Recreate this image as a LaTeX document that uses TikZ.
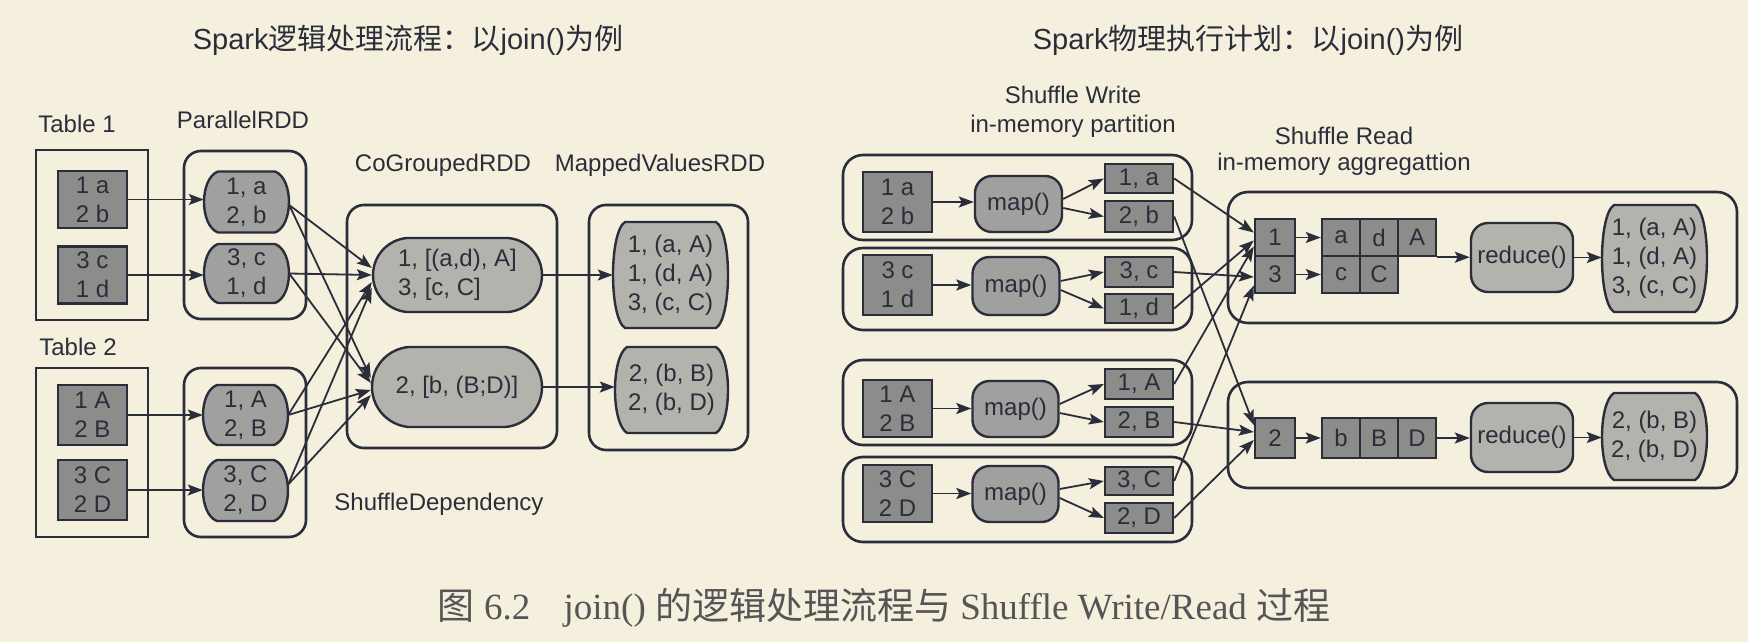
\documentclass[tikz,border=0pt]{standalone}
\usepackage{fontspec}
\setmainfont{Liberation Sans}
\newfontfamily\cjk{Noto Sans CJK SC}
\newfontfamily\capserif{Liberation Serif}
\usetikzlibrary{shapes.misc,arrows.meta}
\definecolor{bg}{RGB}{245,239,221}
\definecolor{ink}{RGB}{42,46,58}
\definecolor{gdark}{RGB}{140,140,138}
\definecolor{gmid}{RGB}{160,160,158}
\definecolor{glight}{RGB}{180,178,173}
\definecolor{capgray}{RGB}{85,85,85}
% barrel-shaped node: name, x, y, width, height, corner inset, corner drop, fill, text
\newcommand\mybarrel[9]{%
  \draw[draw=ink, line width=2.4pt, fill=#8]
    ({#2-#4/2+#6},{#3-#5/2}) -- ({#2+#4/2-#6},{#3-#5/2})
    .. controls ({#2+#4/2+#6/3},{#3-#5/2+#7}) and ({#2+#4/2+#6/3},{#3+#5/2-#7}) .. ({#2+#4/2-#6},{#3+#5/2})
    -- ({#2-#4/2+#6},{#3+#5/2})
    .. controls ({#2-#4/2-#6/3},{#3+#5/2-#7}) and ({#2-#4/2-#6/3},{#3-#5/2+#7}) .. cycle;
  \node[minimum width=#4pt, minimum height=#5pt] (#1) at (#2,#3) {#9};}
\begin{document}
\begin{tikzpicture}[x=1pt,y=-1pt,
  every node/.style={font=\fontsize{24}{29}\selectfont, text=ink, inner sep=0pt, align=center},
  lbl/.style={anchor=base},
  frame/.style={draw=ink, line width=2.6pt, rectangle},
  rframe/.style={frame, rounded corners=17pt},
  sq/.style={draw=ink, line width=2.4pt, fill=gdark, rectangle},
  stadium/.style={draw=ink, line width=2.4pt, fill=glight, rounded rectangle, rounded rectangle arc length=170},
  func/.style={draw=ink, line width=2.4pt, fill=gmid, rectangle, rounded corners=17pt},
  arr/.style={draw=ink, line width=1.8pt, -{Stealth[length=15pt,width=11pt,inset=3pt]}},
  ttl/.style={font=\fontsize{29}{34}\selectfont, text=ink}
]
\useasboundingbox[fill=bg] (0,0) rectangle (1748,642);

% ---------- titles ----------
\node[ttl] (title1) at (408,40) {Spark{\cjk 逻辑处理流程：以}join(){\cjk 为例}};
\node[ttl] (title2) at (1248,40) {Spark{\cjk 物理执行计划：以}join(){\cjk 为例}};

% ---------- left: labels ----------
\node[lbl] (tab1) at (77,132) {Table 1};
\node[lbl] (prdd) at (243,128) {ParallelRDD};
\node[lbl] (cgl) at (443,171) {CoGroupedRDD};
\node[lbl] (mvl) at (660,171) {MappedValuesRDD};
\node[lbl] (tab2) at (78,355) {Table 2};
\node[lbl] (sdl) at (439,510) {ShuffleDependency};

% ---------- left: frames ----------
\node[frame, minimum width=112pt, minimum height=170pt] (T1) at (92,235) {};
\node[rframe, minimum width=122pt, minimum height=168pt] (P1) at (245,235) {};
\node[frame, minimum width=112pt, minimum height=169pt] (T2) at (92,452.5) {};
\node[rframe, minimum width=122pt, minimum height=169pt] (P2) at (245,452.5) {};
\node[rframe, minimum width=210pt, minimum height=243pt] (CG) at (452,326.5) {};
\node[rframe, minimum width=159pt, minimum height=245pt] (MV) at (668.5,327.5) {};

% ---------- left: nodes ----------
\node[sq, minimum width=69pt, minimum height=57pt] (t1a) at (92.5,199.5) {1 a\\2 b};
\node[sq, minimum width=69pt, minimum height=57pt] (t1b) at (92.5,275) {3 c\\1 d};
\node[sq, minimum width=69pt, minimum height=60pt] (t2a) at (92.5,415) {1 A\\2 B};
\node[sq, minimum width=69pt, minimum height=60pt] (t2b) at (92.5,490) {3 C\\2 D};

\mybarrel{p1a}{246.5}{202}{85}{61}{14}{7}{gmid}{1, a\\2, b}
\mybarrel{p1b}{246.5}{273.5}{85}{59}{14}{7}{gmid}{3, c\\1, d}
\mybarrel{p2a}{245.5}{415}{85}{60}{14}{7}{gmid}{1, A\\2, B}
\mybarrel{p2b}{245.5}{490.5}{85}{61}{14}{7}{gmid}{3, C\\2, D}

\node[stadium, align=left, minimum width=169pt, minimum height=74pt] (cg1) at (457.5,275) {1, [(a,d), A]\\3, [c, C]};
\node[stadium, minimum width=170pt, minimum height=80pt] (cg2) at (457,387) {2, [b, (B;D)]};

\mybarrel{mv1}{670.5}{275}{115}{106}{12}{10}{glight}{1, (a, A)\\1, (d, A)\\3, (c, C)}
\mybarrel{mv2}{671.5}{390}{113}{86}{12}{10}{glight}{2, (b, B)\\2, (b, D)}

% ---------- left: arrows ----------
\draw[arr] (t1a.east) -- (t1a.east -| p1a.west);
\draw[arr] (t1b.east) -- (t1b.east -| p1b.west);
\draw[arr] (t2a.east) -- (t2a.east -| p2a.west);
\draw[arr] (t2b.east) -- (t2b.east -| p2b.west);

\draw[arr] ([yshift=-3pt]p1a.east) -- ([yshift=7pt]cg1.west);
\draw[arr] ([yshift=-3pt]p1a.east) -- ([yshift=9pt]cg2.west);
\draw[arr] (p1b.east) -- (cg1.west);
\draw[arr] (p1b.east) -- ([yshift=4pt]cg2.west);
\draw[arr] (p2a.east) -- ([yshift=-7pt]cg1.west);
\draw[arr] (p2a.east) -- ([yshift=-3pt]cg2.west);
\draw[arr] ([yshift=6pt]p2b.east) -- ([yshift=-13pt]cg1.west);
\draw[arr] ([yshift=6pt]p2b.east) -- ([yshift=-8pt]cg2.west);

\draw[arr] (cg1.east) -- (mv1.west);
\draw[arr] (cg2.east) -- (cg2.east -| mv2.west);

% ---------- right: labels ----------
\node (swl) at (1073,112) {Shuffle Write\\in-memory partition};
\node[font=\fontsize{24}{26}\selectfont] (srl) at (1344,151) {Shuffle Read\\in-memory aggregattion};

% ---------- right: frames ----------
\node[rframe, rounded corners=20pt, minimum width=349pt, minimum height=85pt] (R1) at (1017.5,197.5) {};
\node[rframe, rounded corners=20pt, minimum width=349pt, minimum height=82pt] (R2) at (1017.5,289) {};
\node[rframe, rounded corners=20pt, minimum width=349pt, minimum height=85pt] (R3) at (1017.5,402.5) {};
\node[rframe, rounded corners=20pt, minimum width=349pt, minimum height=85pt] (R4) at (1017.5,499.5) {};
\node[rframe, rounded corners=20pt, minimum width=509pt, minimum height=131pt] (SR1) at (1482.5,257.5) {};
\node[rframe, rounded corners=20pt, minimum width=509pt, minimum height=106pt] (SR2) at (1482.5,435) {};

% ---------- right: write side ----------
\node[sq, minimum width=69pt, minimum height=60pt] (s1) at (897.5,202) {1 a\\2 b};
\node[sq, minimum width=69pt, minimum height=60pt] (s2) at (897.5,285) {3 c\\1 d};
\node[sq, minimum width=69pt, minimum height=57pt] (s3) at (897.5,408.5) {1 A\\2 B};
\node[sq, minimum width=69pt, minimum height=57pt] (s4) at (897.5,493.5) {3 C\\2 D};

\node[func, minimum width=87pt, minimum height=56pt] (m1) at (1018.5,204) {map()};
\node[func, minimum width=87pt, minimum height=58pt] (m2) at (1016,286) {map()};
\node[func, minimum width=86pt, minimum height=56pt] (m3) at (1015.5,409) {map()};
\node[func, minimum width=86pt, minimum height=56pt] (m4) at (1015.5,494) {map()};

\node[sq, minimum width=68pt, minimum height=29pt] (o1a) at (1139,178.5) {1, a};
\node[sq, minimum width=68pt, minimum height=31pt] (o1b) at (1139,216.5) {2, b};
\node[sq, minimum width=68pt, minimum height=30pt] (o2a) at (1139,272) {3, c};
\node[sq, minimum width=68pt, minimum height=29pt] (o2b) at (1139,308.5) {1, d};
\node[sq, minimum width=68pt, minimum height=30pt] (o3a) at (1139,384) {1, A};
\node[sq, minimum width=68pt, minimum height=30pt] (o3b) at (1139,422) {2, B};
\node[sq, minimum width=68pt, minimum height=28pt] (o4a) at (1139,481) {3, C};
\node[sq, minimum width=68pt, minimum height=30pt] (o4b) at (1139,518) {2, D};

\draw[arr] (s1.east) -- (s1.east -| m1.west);
\draw[arr] (s2.east) -- (s2.east -| m2.west);
\draw[arr] (s3.east) -- (s3.east -| m3.west);
\draw[arr] (s4.east) -- (s4.east -| m4.west);
\foreach \i in {1,2,3,4}{
  \draw[arr] ([yshift=5pt]m\i.east) -- (o\i a.west);
  \draw[arr] ([yshift=-4pt]m\i.east) -- (o\i b.west);
}

% ---------- right: read side ----------
\node[sq, minimum width=40pt, minimum height=37pt] (k1) at (1275,237.5) {1};
\node[sq, minimum width=40pt, minimum height=37pt] (k3) at (1275,274.5) {3};
\node[sq, minimum width=38pt, minimum height=37pt] (ca) at (1341,237.5) {a};
\node[sq, minimum width=38pt, minimum height=37pt] (cd) at (1379,237.5) {d};
\node[sq, minimum width=38pt, minimum height=37pt] (cA) at (1417,237.5) {A};
\node[sq, minimum width=38pt, minimum height=37pt] (cc) at (1341,274.5) {c};
\node[sq, minimum width=38pt, minimum height=37pt] (cC) at (1379,274.5) {C};
\node[func, fill=glight, minimum width=102pt, minimum height=69pt] (red1) at (1522,257.5) {reduce()};
\mybarrel{res1}{1654.5}{258.5}{105}{107}{12}{10}{glight}{1, (a, A)\\1, (d, A)\\3, (c, C)}

\node[sq, minimum width=40pt, minimum height=40pt] (k2) at (1275,438) {2};
\node[sq, minimum width=38pt, minimum height=40pt] (cb) at (1341,438) {b};
\node[sq, minimum width=38pt, minimum height=40pt] (cB) at (1379,438) {B};
\node[sq, minimum width=38pt, minimum height=40pt] (cD) at (1417,438) {D};
\node[func, fill=glight, minimum width=102pt, minimum height=69pt] (red2) at (1522,437.5) {reduce()};
\mybarrel{res2}{1654.5}{436.5}{105}{87}{12}{10}{glight}{2, (b, B)\\2, (b, D)}

\draw[arr] (k1.east) -- (ca.west);
\draw[arr] (k3.east) -- (cc.west);
\draw[arr] (cA.south east) -- (cA.south east -| red1.west);
\draw[arr] (red1.east) -- (red1.east -| res1.west);
\draw[arr] (k2.east) -- (cb.west);
\draw[arr] (cD.east) -- (cD.east -| red2.west);
\draw[arr] (red2.east) -- (red2.east -| res2.west);

% ---------- shuffle cross arrows ----------
\draw[arr] (o1a.east) -- ([yshift=5pt]k1.west);
\draw[arr] (o1b.east) -- ([yshift=13pt]k2.west);
\draw[arr] (o2a.east) -- ([yshift=-2.5pt]k3.west);
\draw[arr] (o2b.east) -- ([yshift=-3pt]k1.west);
\draw[arr] (o3a.east) -- ([yshift=-9pt]k1.west);
\draw[arr] (o3b.east) -- ([yshift=6pt]k2.west);
\draw[arr] (o4a.east) -- ([yshift=-11pt]k3.west);
\draw[arr] (o4b.east) -- ([yshift=-2pt]k2.west);

% ---------- caption ----------
\node[font=\capserif\fontsize{37}{42}\selectfont, text=capgray] (cap) at (884,608)
  {{\cjk 图} 6.2\hspace{0.9em}join() {\cjk 的逻辑处理流程与} Shuffle Write/Read {\cjk 过程}};
\end{tikzpicture}
\end{document}
